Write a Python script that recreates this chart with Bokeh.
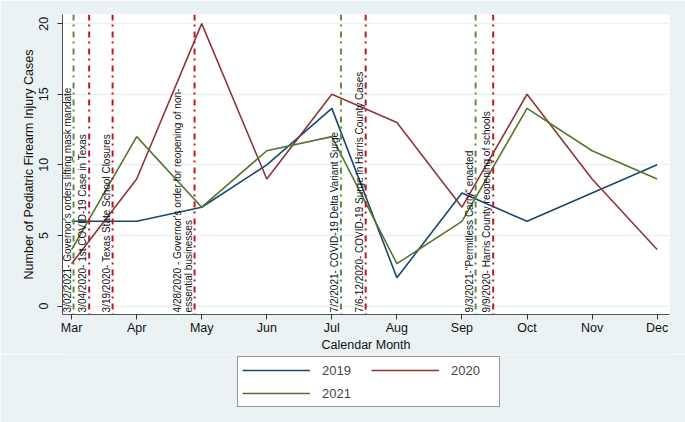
import math
from bokeh.plotting import figure
from bokeh.layouts import column
from bokeh.models import Span, Legend, LegendItem, FixedTicker, ColumnDataSource, Range1d
from bokeh.core.properties import value
from bokeh.embed import file_html
from bokeh.resources import INLINE

# ---- data ----
months = [3, 4, 5, 6, 7, 8, 9, 10, 11, 12]
month_labels = ["Mar", "Apr", "May", "Jun", "Jul", "Aug", "Sep", "Oct", "Nov", "Dec"]
cases_2019 = [6, 6, 7, 10, 14, 2, 8, 6, 8, 10]
cases_2020 = [3, 9, 20, 9, 15, 13, 7, 15, 9, 4]
cases_2021 = [4, 12, 7, 11, 12, 3, 6, 14, 11, 9]
y_ticks = [0, 5, 10, 15, 20]
series_names = ["2019", "2020", "2021"]

event_x = [3.03, 3.27, 3.63, 4.89, 7.14, 7.52, 9.21, 9.48]
event_year = ["2021", "2020", "2020", "2020", "2021", "2020", "2021", "2020"]
event_labels = [
    "3/02/2021- Governor's orders lifting mask mandate",
    "3/04/2020- 1st COVID-19 Case in Texas",
    "3/19/2020- Texas State School Closures",
    "4/28/2020 - Governor's order for reopening of non-\nessential businesses",
    "7/2/2021- COVID-19 Delta Variant Surge",
    "7/6-12/2020- COVID-19 Surge in Harris County Cases",
    "9/3/2021-\"Permitless Carry\" enacted",
    "9/9/2020- Harris County reopening of schools",
]

# ---- styles ----
BG = "#eaf2f3"
COLORS = {"2019": "#1a476f", "2020": "#90353b", "2021": "#55752f"}
EV_COL = {"2020": "#c4161c", "2021": "#5b8f3a"}
FONT = "Liberation Sans"

p = figure(frame_width=607, frame_height=300, output_backend="svg", toolbar_location=None,
           x_range=Range1d(2.86, 12.19), y_range=Range1d(-0.6, 20.65),
           min_border_left=62, min_border_right=16, min_border_top=14, min_border_bottom=40,
           background_fill_color="white", border_fill_color=BG, outline_line_color=None)

# grid
p.xgrid.visible = False
p.ygrid.grid_line_color = BG
p.ygrid.grid_line_width = 1.5
p.ygrid.ticker = FixedTicker(ticks=y_ticks)

# axes
p.xaxis.ticker = FixedTicker(ticks=months)
p.xaxis.major_label_overrides = {m: l for m, l in zip(months, month_labels)}
p.yaxis.ticker = FixedTicker(ticks=y_ticks)
p.yaxis.major_label_orientation = "vertical"
for ax in (p.xaxis[0], p.yaxis[0]):
    ax.axis_line_color = "#555555"
    ax.axis_line_width = 1
    ax.major_tick_line_color = "#333333"
    ax.major_tick_out = 5
    ax.major_tick_in = 0
    ax.minor_tick_out = 0
    ax.minor_tick_in = 0
    ax.major_label_text_font = FONT
    ax.major_label_text_font_size = "12.5px"
    ax.major_label_text_color = "#111111"
    ax.axis_label_text_font = FONT
    ax.axis_label_text_font_size = "12.5px"
    ax.axis_label_text_font_style = "normal"
    ax.axis_label_text_color = "#111111"
p.xaxis.axis_label = "Calendar Month"
p.yaxis.axis_label = "Number of Pediatric Firearm Injury Cases"
p.xaxis.major_label_standoff = 1
p.xaxis.axis_label_standoff = 0
p.yaxis.major_label_standoff = 9
p.yaxis.axis_label_standoff = 1

# event lines
for ex, ey in zip(event_x, event_year):
    p.add_layout(Span(location=ex, dimension="height", line_color=EV_COL[ey],
                      line_width=2, line_dash="6 4 2 5"))

# series
all_vals = [cases_2019, cases_2020, cases_2021]
for name, vals in zip(series_names, all_vals):
    p.line(months, vals, line_color=COLORS[name], line_width=1.6)

# event labels
src = ColumnDataSource(dict(x=event_x, y=[-0.45] * len(event_x), t=event_labels))
p.text(x="x", y="y", text="t", source=src, angle=math.pi / 2,
       text_align="left", text_baseline="bottom", x_offset=-1,
       text_font=value(FONT), text_font_size="10px", text_color="#111111",
       text_line_height=1.0)

# ---- legend strip below (same series, ranges chosen so only the key shows) ----
p2 = figure(width=685, height=68, output_backend="svg", toolbar_location=None,
            x_axis_location=None, y_axis_location=None,
            x_range=Range1d(-100, -99), y_range=Range1d(-100, -99),
            min_border=0, min_border_left=0, min_border_right=0,
            min_border_top=0, min_border_bottom=0,
            background_fill_color=BG, border_fill_color=BG, outline_line_color=None)
p2.xgrid.visible = False
p2.ygrid.visible = False
items = []
for name, vals in zip(series_names, all_vals):
    r = p2.line(months, vals, line_color=COLORS[name], line_width=1.6)
    items.append(LegendItem(label=name, renderers=[r]))

legend = Legend(items=items, orientation="horizontal", ncols=2, location=(175, 15),
                border_line_color="#333333", border_line_width=1,
                background_fill_color="white", background_fill_alpha=1,
                label_text_font=FONT, label_text_font_size="13px",
                glyph_width=68, glyph_height=18, label_height=18, label_width=44,
                label_standoff=12, spacing=5, padding=4, margin=0)
p2.add_layout(legend, "center")

layout = column(p, p2, spacing=0)
open("out.html", "w").write(file_html(layout, INLINE))
